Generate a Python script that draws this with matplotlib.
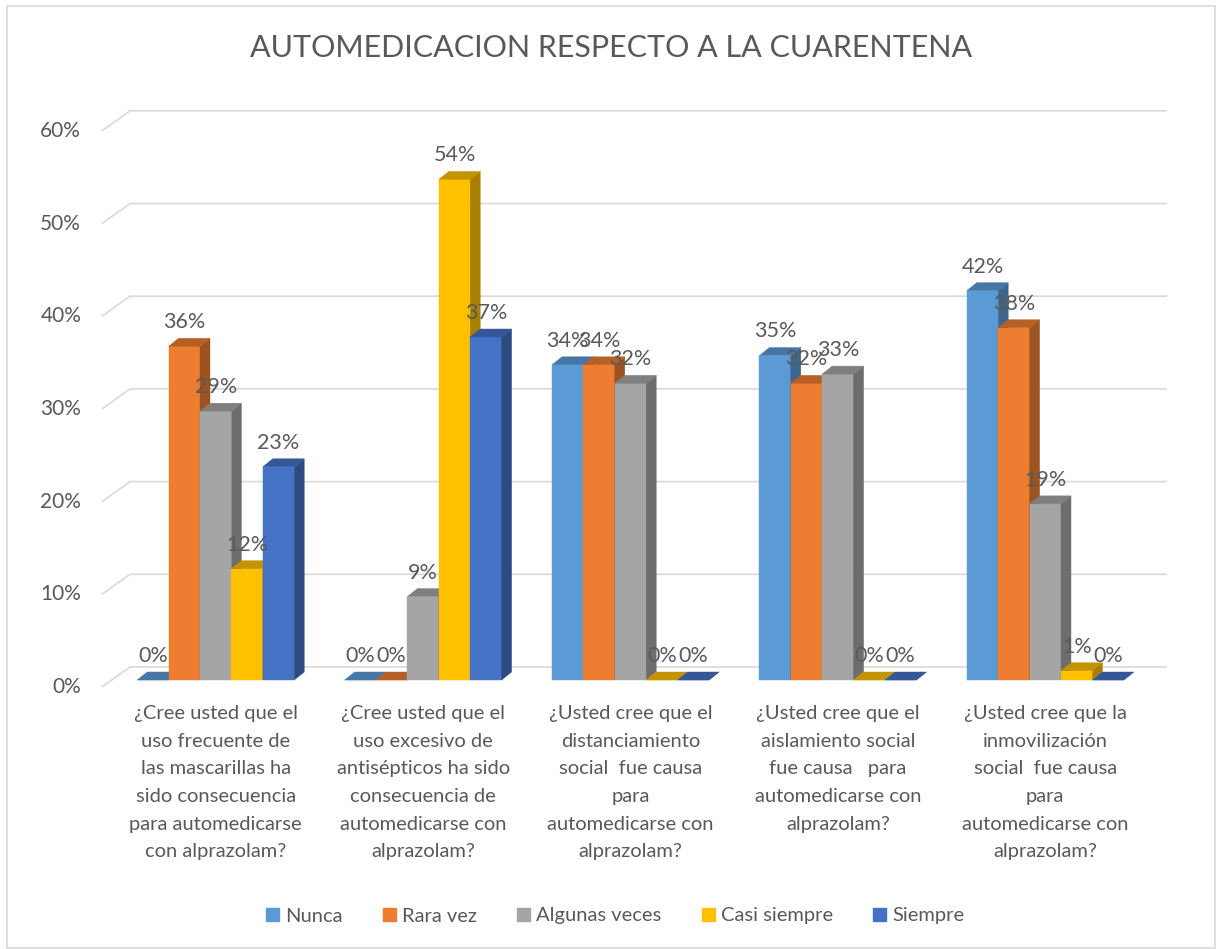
import matplotlib
matplotlib.use("Agg")
import matplotlib.pyplot as plt
from matplotlib.patches import Polygon, Rectangle, Patch

plt.rcParams['font.family'] = ['Lato', 'DejaVu Sans']

# datos
title = "AUTOMEDICACION RESPECTO A LA CUARENTENA"
categories = [
    "¿Cree usted que el\nuso frecuente de\nlas mascarillas ha\nsido consecuencia\npara automedicarse\ncon alprazolam?",
    "¿Cree usted que el\nuso excesivo de\nantisépticos ha sido\nconsecuencia de\nautomedicarse con\nalprazolam?",
    "¿Usted cree que el\ndistanciamiento\nsocial  fue causa\npara\nautomedicarse con\nalprazolam?",
    "¿Usted cree que el\naislamiento social\nfue causa   para\nautomedicarse con\nalprazolam?",
    "¿Usted cree que la\ninmovilización\nsocial  fue causa\npara\nautomedicarse con\nalprazolam?",
]
series = ["Nunca", "Rara vez", "Algunas veces", "Casi siempre", "Siempre"]
nunca = [0, 0, 34, 35, 42]
rara_vez = [36, 0, 34, 32, 38]
algunas_veces = [29, 9, 32, 33, 19]
casi_siempre = [12, 54, 0, 0, 1]
siempre = [23, 37, 0, 0, 0]
yticks = [0, 10, 20, 30, 40, 50, 60]
colors = ["#5B9BD5", "#ED7D31", "#A5A5A5", "#FFC000", "#4472C4"]

values = [nunca, rara_vez, algunas_veces, casi_siempre, siempre]
TXT = "#595959"

W, H = 1220, 949
fig = plt.figure(figsize=(W / 100, H / 100), dpi=100)
ax = fig.add_axes([0, 0, 1, 1])
ax.axis('off')

# escala: px por categoria / por punto porcentual
PX_X, PX_Y = 207.4, 9.27
X0, Y0 = 112, 680
ax.set_xlim(-X0 / PX_X, (W - X0) / PX_X)
ax.set_ylim(-(H - Y0) / PX_Y, Y0 / PX_Y)


def dx(p):
    return p / PX_X


def dy(p):
    return p / PX_Y


def shade(c, f):
    c = matplotlib.colors.to_rgb(c)
    return tuple(v * f for v in c)


# rejilla con perspectiva
n = len(categories)
for v in yticks:
    ax.plot([-dx(10), dx(18), n + dx(18)], [v - dy(7), v + dy(13), v + dy(13)],
            color="#D9D9D9", lw=1.2, zorder=1, solid_capstyle='butt')
    ax.annotate(f"{v}%", (-dx(10), v - dy(7)), xytext=(-15, 0), textcoords='offset points',
                ha='right', va='center', fontsize=15, color=TXT)

# barras 3D
gap = 0.1215
w = (1 - 2 * gap) / len(series)
ddx, ddy = dx(10), dy(8)
z = 2
for i in range(n):
    for j, vals in enumerate(values):
        v = vals[i]
        c = colors[j]
        x0 = i + gap + j * w
        ax.add_patch(Rectangle((x0, 0), w, v, facecolor=c, edgecolor=c, lw=0.3, zorder=z))
        ax.add_patch(Polygon([(x0 + w, 0), (x0 + w + ddx, ddy), (x0 + w + ddx, v + ddy), (x0 + w, v)],
                             closed=True, facecolor=shade(c, 0.66), edgecolor=shade(c, 0.66), lw=0.3, zorder=z))
        ax.add_patch(Polygon([(x0, v), (x0 + w, v), (x0 + w + ddx, v + ddy), (x0 + ddx, v + ddy)],
                             closed=True, facecolor=shade(c, 0.77), edgecolor=shade(c, 0.77), lw=0.3, zorder=z))
        z += 1
for i in range(n):
    for j, vals in enumerate(values):
        v = vals[i]
        x0 = i + gap + j * w
        ax.annotate(f"{v}%", (x0 + w / 2, v), xytext=(0, 13), textcoords='offset points',
                    ha='center', va='baseline', fontsize=15.5, color=TXT, zorder=100)

# etiquetas de categoria
for i, cat in enumerate(categories):
    ax.text(i + 0.5, -dy(25), cat, ha='center', va='top', fontsize=14.5,
            linespacing=1.76, color=TXT)

fig.text(611 / W, 1 - 48 / H, title, ha='center', va='center', fontsize=22, color=TXT)

handles = [Patch(facecolor=c, edgecolor=c) for c in colors]
fig.legend(handles, series, loc='center', bbox_to_anchor=(615 / W, 1 - 916 / H), ncol=5,
           frameon=False, fontsize=14.5, handlelength=0.65, handleheight=0.65,
           handletextpad=0.3, columnspacing=2.0, labelcolor=TXT)

fig.patches.append(Rectangle((7 / W, 1 / H), (1215 - 7) / W, (943 - 1) / H, transform=fig.transFigure,
                             fill=False, edgecolor="#D9D9D9", lw=1.2))

fig.savefig("out.png", dpi=100)
